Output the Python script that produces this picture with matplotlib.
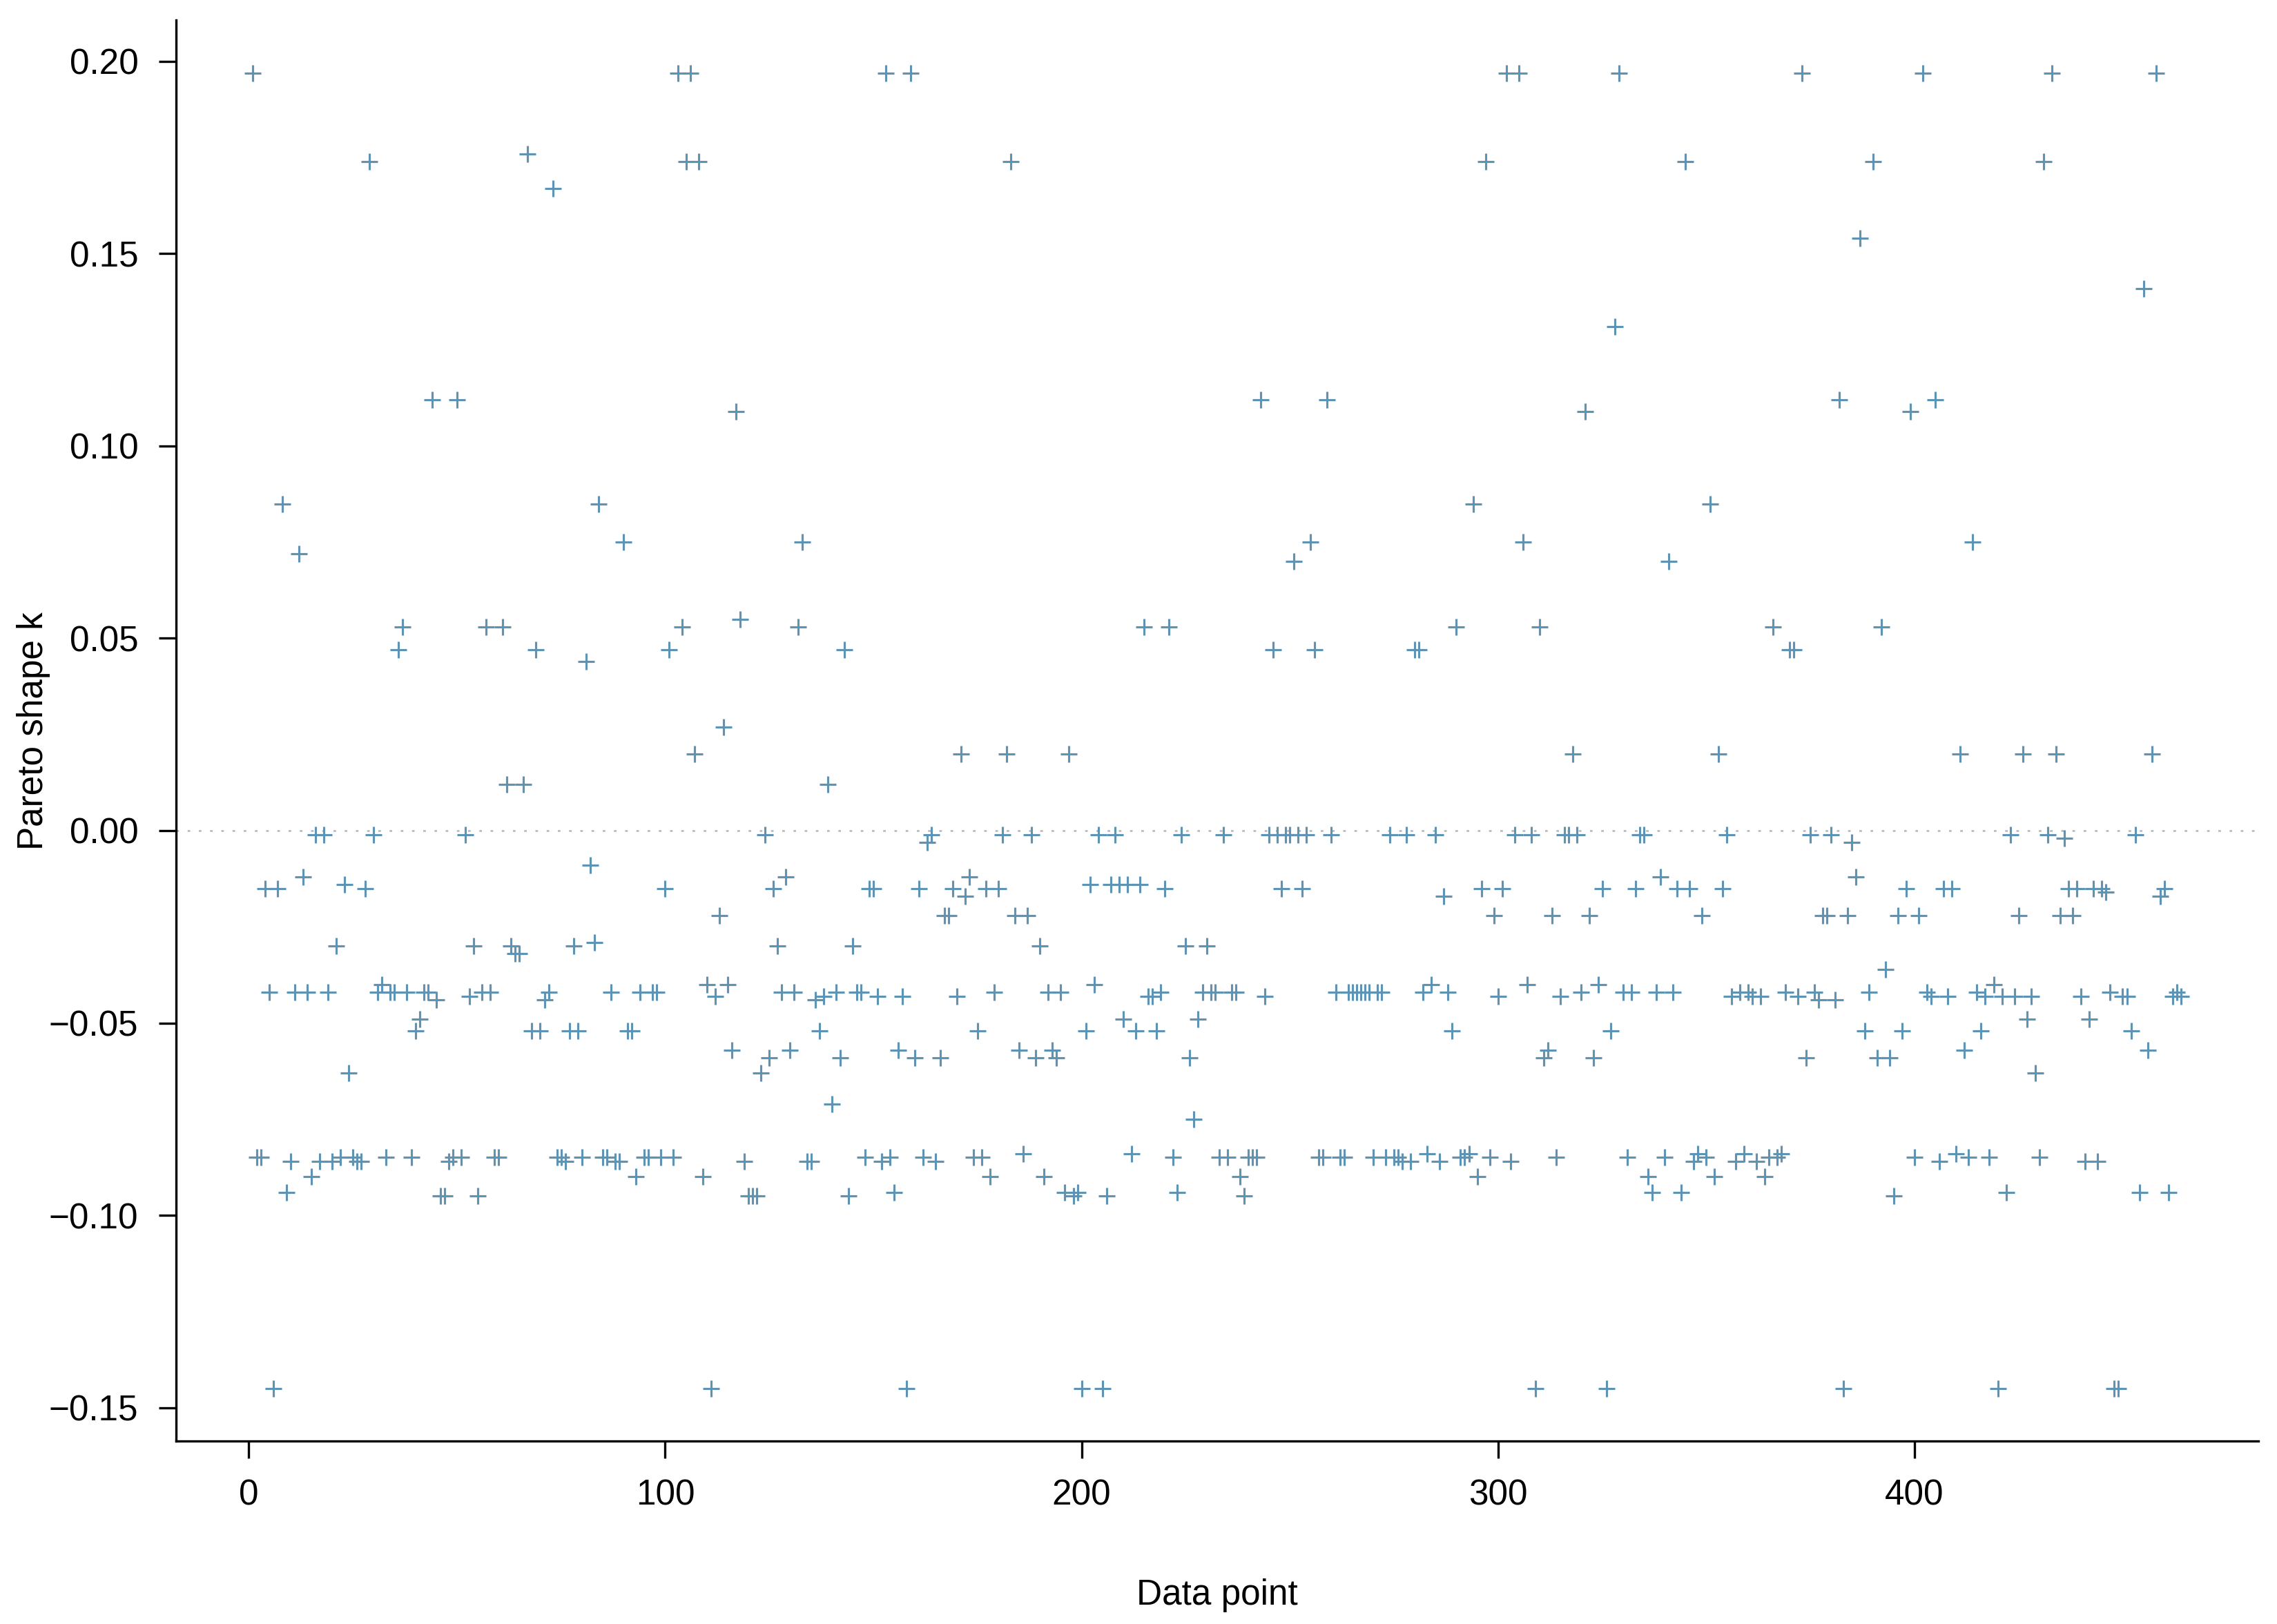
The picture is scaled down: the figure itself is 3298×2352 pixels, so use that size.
import matplotlib
matplotlib.use('Agg')
import matplotlib.pyplot as plt
import numpy as np

pareto_k = [
    0.197, -0.085, -0.085, -0.015, -0.042, -0.145, -0.015, 0.085, -0.094, -0.086,
    -0.042, 0.072, -0.012, -0.042, -0.090, -0.001, -0.086, -0.001, -0.042, -0.086,
    -0.030, -0.085, -0.014, -0.063, -0.085, -0.086, -0.086, -0.015, 0.174, -0.001,
    -0.042, -0.040, -0.085, -0.042, -0.042, 0.047, 0.053, -0.042, -0.085, -0.052,
    -0.049, -0.042, -0.042, 0.112, -0.044, -0.095, -0.095, -0.086, -0.085, 0.112,
    -0.085, -0.001, -0.043, -0.030, -0.095, -0.042, 0.053, -0.042, -0.085, -0.085,
    0.053, 0.012, -0.030, -0.032, -0.032, 0.012, 0.176, -0.052, 0.047, -0.052,
    -0.044, -0.042, 0.167, -0.085, -0.085, -0.086, -0.052, -0.030, -0.052, -0.085,
    0.044, -0.009, -0.029, 0.085, -0.085, -0.085, -0.042, -0.086, -0.086, 0.075,
    -0.052, -0.052, -0.090, -0.042, -0.085, -0.085, -0.042, -0.042, -0.085, -0.015,
    0.047, -0.085, 0.197, 0.053, 0.174, 0.197, 0.020, 0.174, -0.090, -0.040,
    -0.145, -0.043, -0.022, 0.027, -0.040, -0.057, 0.109, 0.055, -0.086, -0.095,
    -0.095, -0.095, -0.063, -0.001, -0.059, -0.015, -0.030, -0.042, -0.012, -0.057,
    -0.042, 0.053, 0.075, -0.086, -0.086, -0.044, -0.052, -0.043, 0.012, -0.071,
    -0.042, -0.059, 0.047, -0.095, -0.030, -0.042, -0.042, -0.085, -0.015, -0.015,
    -0.043, -0.086, 0.197, -0.085, -0.094, -0.057, -0.043, -0.145, 0.197, -0.059,
    -0.015, -0.085, -0.003, -0.001, -0.086, -0.059, -0.022, -0.022, -0.015, -0.043,
    0.020, -0.017, -0.012, -0.085, -0.052, -0.085, -0.015, -0.090, -0.042, -0.015,
    -0.001, 0.020, 0.174, -0.022, -0.057, -0.084, -0.022, -0.001, -0.059, -0.030,
    -0.090, -0.042, -0.057, -0.059, -0.042, -0.094, 0.020, -0.095, -0.094, -0.145,
    -0.052, -0.014, -0.040, -0.001, -0.145, -0.095, -0.014, -0.001, -0.014, -0.049,
    -0.014, -0.084, -0.052, -0.014, 0.053, -0.043, -0.043, -0.052, -0.042, -0.015,
    0.053, -0.085, -0.094, -0.001, -0.030, -0.059, -0.075, -0.049, -0.042, -0.030,
    -0.042, -0.042, -0.085, -0.001, -0.085, -0.042, -0.042, -0.090, -0.095, -0.085,
    -0.085, -0.085, 0.112, -0.043, -0.001, 0.047, -0.001, -0.015, -0.001, -0.001,
    0.070, -0.001, -0.015, -0.001, 0.075, 0.047, -0.085, -0.085, 0.112, -0.001,
    -0.042, -0.085, -0.085, -0.042, -0.042, -0.042, -0.042, -0.042, -0.042, -0.085,
    -0.042, -0.042, -0.085, -0.001, -0.085, -0.085, -0.086, -0.001, -0.086, 0.047,
    0.047, -0.042, -0.084, -0.040, -0.001, -0.086, -0.017, -0.042, -0.052, 0.053,
    -0.085, -0.085, -0.084, 0.085, -0.090, -0.015, 0.174, -0.085, -0.022, -0.043,
    -0.015, 0.197, -0.086, -0.001, 0.197, 0.075, -0.040, -0.001, -0.145, 0.053,
    -0.059, -0.057, -0.022, -0.085, -0.043, -0.001, -0.001, 0.020, -0.001, -0.042,
    0.109, -0.022, -0.059, -0.040, -0.015, -0.145, -0.052, 0.131, 0.197, -0.042,
    -0.085, -0.042, -0.015, -0.001, -0.001, -0.090, -0.094, -0.042, -0.012, -0.085,
    0.070, -0.042, -0.015, -0.094, 0.174, -0.015, -0.086, -0.084, -0.022, -0.085,
    0.085, -0.090, 0.020, -0.015, -0.001, -0.043, -0.086, -0.042, -0.084, -0.042,
    -0.043, -0.086, -0.043, -0.090, -0.085, 0.053, -0.085, -0.084, -0.042, 0.047,
    0.047, -0.043, 0.197, -0.059, -0.001, -0.042, -0.044, -0.022, -0.022, -0.001,
    -0.044, 0.112, -0.145, -0.022, -0.003, -0.012, 0.154, -0.052, -0.042, 0.174,
    -0.059, 0.053, -0.036, -0.059, -0.095, -0.022, -0.052, -0.015, 0.109, -0.085,
    -0.022, 0.197, -0.042, -0.043, 0.112, -0.086, -0.015, -0.043, -0.015, -0.084,
    0.020, -0.057, -0.085, 0.075, -0.042, -0.052, -0.043, -0.085, -0.040, -0.145,
    -0.043, -0.094, -0.001, -0.043, -0.022, 0.020, -0.049, -0.043, -0.063, -0.085,
    0.174, -0.001, 0.197, 0.020, -0.022, -0.002, -0.015, -0.022, -0.015, -0.043,
    -0.086, -0.049, -0.015, -0.086, -0.015, -0.016, -0.042, -0.145, -0.145, -0.043,
    -0.043, -0.052, -0.001, -0.094, 0.141, -0.057, 0.020, 0.197, -0.017, -0.015,
    -0.094, -0.043, -0.042, -0.043,
]
data_point = np.arange(1, len(pareto_k) + 1)

x_ticks = [0, 100, 200, 300, 400]
y_ticks = [-0.15, -0.10, -0.05, 0.00, 0.05, 0.10, 0.15, 0.20]
y_tick_labels = ['\u22120.15', '\u22120.10', '\u22120.05', '0.00', '0.05', '0.10', '0.15', '0.20']

plt.rcParams['font.family'] = ['Liberation Sans', 'DejaVu Sans']

fig = plt.figure(figsize=(3298 / 300, 2352 / 300), dpi=300)
ax = fig.add_axes([0.0772, 0.1127, 0.9145, 0.8748])

ax.plot(data_point, pareto_k, linestyle='none', marker='+', color='#5F93B4',
        markersize=5.8, markeredgewidth=0.75)
ax.axhline(0, color='#B5B5B5', linewidth=0.6, linestyle=(0, (1.5, 5)), zorder=0)

ax.margins(x=0.04, y=0.04)
ax.set_xticks(x_ticks)
ax.set_yticks(y_ticks)
ax.set_yticklabels(y_tick_labels)

for side in ['top', 'right']:
    ax.spines[side].set_visible(False)
for side in ['left', 'bottom']:
    ax.spines[side].set_linewidth(0.8)
ax.tick_params(direction='out', length=6, width=0.8, labelsize=12.3, pad=7)

ax.set_xlabel('Data point', fontsize=12.3, labelpad=23)
ax.set_ylabel('Pareto shape k', fontsize=12.3, labelpad=-0.5)

fig.savefig('out.png', dpi=300)
